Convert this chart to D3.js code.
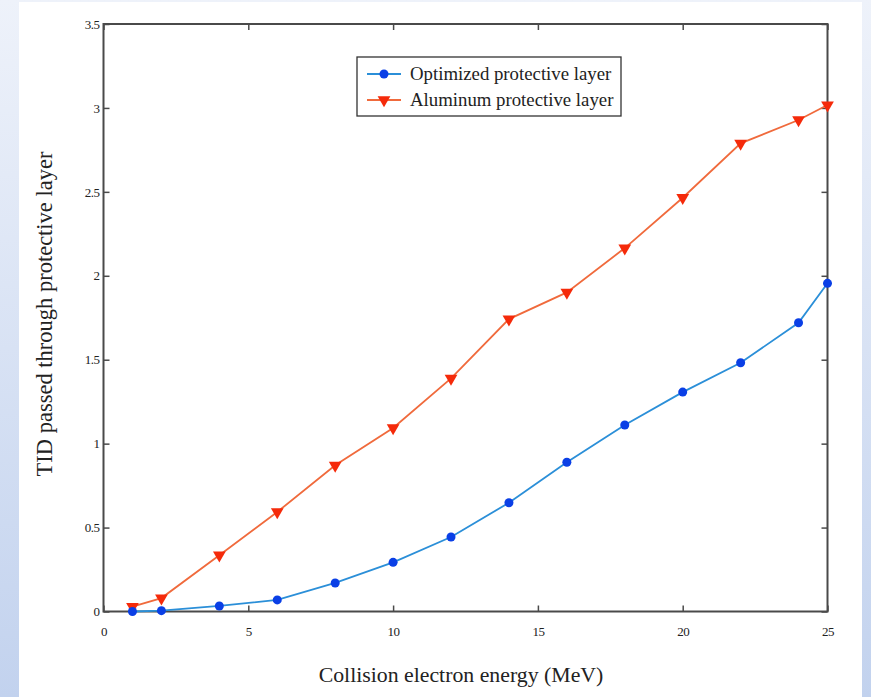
<!DOCTYPE html>
<html>
<head>
<meta charset="utf-8">
<script src="https://cdn.jsdelivr.net/npm/d3@7"></script>
<style>
  html, body { margin: 0; padding: 0; }
  body { width: 871px; height: 697px; overflow: hidden; }
  svg { display: block; }
</style>
</head>
<body>
<svg id="chart" width="871" height="697"></svg>
<script>
// Collision energies (MeV)
const energies = [1, 2, 4, 6, 8, 10, 12, 14, 16, 18, 20, 22, 24, 25];
// Total ionizing dose passed through each protective layer
const optimizedTID = [0.00, 0.005, 0.033, 0.069, 0.17, 0.293, 0.444, 0.648, 0.889, 1.111, 1.307, 1.482, 1.720, 1.955];
const aluminumTID  = [0.029, 0.08, 0.335, 0.593, 0.871, 1.093, 1.389, 1.742, 1.901, 2.165, 2.465, 2.789, 2.928, 3.017];
const seriesNames = ["Optimized protective layer", "Aluminum protective layer"];
const xTicks = [0, 5, 10, 15, 20, 25];
const yTicks = [0, 0.5, 1, 1.5, 2, 2.5, 3, 3.5];
const xTitle = "Collision electron energy (MeV)";
const yTitle = "TID passed through protective layer";

const svg = d3.select("#chart");

// Page backdrop: pale blue gradient behind a white sheet
const defs = svg.append("defs");
const grad = defs.append("linearGradient").attr("id", "bg").attr("x1", 0).attr("y1", 0).attr("x2", 0).attr("y2", 1);
grad.append("stop").attr("offset", "0%").attr("stop-color", "#eef2fa");
grad.append("stop").attr("offset", "100%").attr("stop-color", "#c2d2ee");
svg.append("rect").attr("width", 871).attr("height", 697).attr("fill", "url(#bg)");
svg.append("rect").attr("x", 19).attr("y", 2).attr("width", 843).attr("height", 695).attr("fill", "#ffffff");

const plotL = 103.5, plotR = 827.5, plotT = 24, plotB = 611.5;
const x = d3.scaleLinear().domain([0, 25]).range([plotL, plotR]);
const y = d3.scaleLinear().domain([0, 3.5]).range([plotB, plotT]);

const axisColor = "#4a4a4a";
const serif = "'Liberation Serif', 'Times New Roman', serif";

// Frame
svg.append("rect")
  .attr("x", plotL).attr("y", plotT)
  .attr("width", plotR - plotL).attr("height", plotB - plotT)
  .attr("fill", "none").attr("stroke", axisColor).attr("stroke-width", 2);

function styleAxis(g) {
  g.select(".domain").remove();
  g.selectAll(".tick line").attr("stroke", axisColor).attr("stroke-width", 1.5);
  g.selectAll(".tick text")
    .attr("font-family", serif).attr("font-size", 13).attr("fill", "#222")
    .attr("letter-spacing", -0.5);
}

// Bottom axis: inward ticks with labels below
svg.append("g").attr("transform", `translate(0,${plotB})`)
  .call(d3.axisBottom(x).tickValues(xTicks).tickFormat(d3.format("d")).tickSizeInner(-6).tickSizeOuter(0).tickPadding(15))
  .call(styleAxis);
// Top axis: inward ticks, no labels
svg.append("g").attr("transform", `translate(0,${plotT})`)
  .call(d3.axisTop(x).tickValues(xTicks).tickFormat("").tickSizeInner(-6).tickSizeOuter(0))
  .call(styleAxis);
// Left axis
svg.append("g").attr("transform", `translate(${plotL},0)`)
  .call(d3.axisLeft(y).tickValues(yTicks).tickFormat(d => String(d)).tickSizeInner(-6).tickSizeOuter(0).tickPadding(4))
  .call(styleAxis);
// Right axis: inward ticks, no labels
svg.append("g").attr("transform", `translate(${plotR},0)`)
  .call(d3.axisRight(y).tickValues(yTicks).tickFormat("").tickSizeInner(-6).tickSizeOuter(0))
  .call(styleAxis);

// Axis titles
svg.append("text")
  .attr("x", 461).attr("y", 682)
  .attr("text-anchor", "middle")
  .attr("font-family", serif).attr("font-size", 21.8).attr("fill", "#222")
  .text(xTitle);
svg.append("text")
  .attr("transform", `translate(52,314) rotate(-90)`)
  .attr("text-anchor", "middle")
  .attr("font-family", serif).attr("font-size", 22.5).attr("fill", "#222")
  .text(yTitle);

const line = d3.line().x(d => x(d[0])).y(d => y(d[1]));
const optPts = energies.map((e, i) => [e, optimizedTID[i]]);
const alPts = energies.map((e, i) => [e, aluminumTID[i]]);

const blueLine = "#2b8fd8", blueMark = "#0a3fe6";
const redLine = "#f06a3c", redMark = "#f52a0a";
const tri = d3.symbol().type(d3.symbolTriangle).size(70);

// Aluminum series
svg.append("path").datum(alPts).attr("d", line)
  .attr("fill", "none").attr("stroke", redLine).attr("stroke-width", 1.8);
svg.append("g").selectAll("path").data(alPts).join("path")
  .attr("d", tri)
  .attr("transform", d => `translate(${x(d[0])},${y(d[1])}) rotate(180)`)
  .attr("fill", redMark);

// Optimized series
svg.append("path").datum(optPts).attr("d", line)
  .attr("fill", "none").attr("stroke", blueLine).attr("stroke-width", 1.8);
svg.append("g").selectAll("circle").data(optPts).join("circle")
  .attr("cx", d => x(d[0])).attr("cy", d => y(d[1])).attr("r", 4.5)
  .attr("fill", blueMark);

// Legend
const lg = svg.append("g").attr("transform", "translate(357,57)");
lg.append("rect").attr("width", 264).attr("height", 59)
  .attr("fill", "#fff").attr("stroke", "#333").attr("stroke-width", 1.3);
const legendItems = [
  { name: seriesNames[0], line: blueLine, mark: blueMark, type: "circle" },
  { name: seriesNames[1], line: redLine, mark: redMark, type: "tri" }
];
legendItems.forEach((it, i) => {
  const cy = 17 + i * 26;
  lg.append("line").attr("x1", 10).attr("x2", 44).attr("y1", cy).attr("y2", cy)
    .attr("stroke", it.line).attr("stroke-width", 1.8);
  if (it.type === "circle") {
    lg.append("circle").attr("cx", 27).attr("cy", cy).attr("r", 4.5).attr("fill", it.mark);
  } else {
    lg.append("path").attr("d", tri).attr("transform", `translate(27,${cy}) rotate(180)`).attr("fill", it.mark);
  }
  lg.append("text").attr("x", 53).attr("y", cy + 5.5)
    .attr("font-family", serif).attr("font-size", 18.8).attr("fill", "#222")
    .text(it.name);
});
</script>
</body>
</html>
